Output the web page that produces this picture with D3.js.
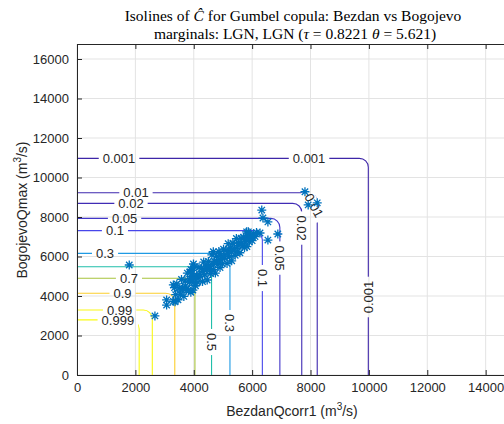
<!DOCTYPE html>
<html>
<head>
<meta charset="utf-8">
<script src="https://cdn.jsdelivr.net/npm/d3@7"></script>
<style>
  body { margin: 0; background: #fff; }
  text { font-family: "Liberation Sans", Arial, sans-serif; fill: #262626; }
  .title { font-family: "Liberation Serif", "DejaVu Serif", serif; font-size: 15.5px; fill: #000; }
</style>
</head>
<body>
<div id="chart"></div>
<script>

// contour levels and where each L-shaped isoline meets the axes
var levels = [0.001, 0.01, 0.02, 0.05, 0.1, 0.3, 0.5, 0.7, 0.9, 0.99, 0.999];
var levelX = [9980, 8230, 7700, 6950, 6350, 5240, 4610, 4040, 3350, 2580, 2130];
var levelY = [10970, 9230, 8690, 7930, 7310, 6160, 5480, 4900, 4140, 3290, 2790];

// inline contour labels
var labelLevel = [0.001, 0.001, 0.001, 0.01, 0.01, 0.02, 0.02, 0.05, 0.05, 0.1, 0.1, 0.3, 0.3, 0.5, 0.7, 0.9, 0.99, 0.999];
var labelX = [1440, 7950, 9980, 2020, 8120, 1850, 7700, 1630, 6950, 1300, 6350, 960, 5240, 4610, 1780, 1560, 1460, 1400];
var labelY = [10970, 10970, 3950, 9230, 8590, 8690, 7440, 7930, 5920, 7310, 4910, 6160, 2630, 1670, 4900, 4140, 3290, 2790];
var labelAngle = [0, 0, -90, 0, 62, 0, 90, 0, 90, 0, 90, 0, 90, 90, 0, 0, 0, 0];

// observed pairs (Bezdan, Bogojevo)
var obsX = [1790, 2670, 3070, 3070, 3300, 3360, 3990, 3930, 3950, 3900, 4670, 4900, 5870, 6330, 6370, 6540, 6270, 6880, 6540, 5810, 7810, 7920, 8230, 3970,
  3300, 3340, 3380, 3420, 3460, 3500, 3540, 3580, 3620, 3660, 3700, 3740, 3780, 3820, 3860, 3900, 3940, 3980, 4020, 4060,
  4100, 4140, 4180, 4220, 4260, 4300, 4340, 4380, 4420, 4460, 4500, 4540, 4580, 4620, 4660, 4700, 4740, 4780, 4820, 4860,
  4900, 4940, 4980, 5020, 5060, 5100, 5140, 5180, 5220, 5260, 5300, 5340, 5380, 5420, 5460, 5500, 5540, 5580, 5620, 5660,
  5700, 5740, 5780, 5820, 5860, 5900, 5950, 6000, 6050, 6100, 6150,
  3600, 3720, 3850, 3970, 4080, 4200, 4320, 4440, 4560, 4680, 4800, 4920, 5040, 5160, 5280, 5400, 5520, 5640, 5760, 5880, 6000];
var obsY = [5570, 2990, 3800, 3540, 4560, 3710, 5620, 5300, 5000, 5350, 6240, 6160, 7250, 8350, 7950, 7750, 7190, 7140, 6830, 7250, 9280, 8610, 8720, 4300,
  3730, 4420, 4070, 4610, 3810, 4400, 4090, 4840, 4380, 3980, 4770, 4360, 5160, 4300, 4850, 4190, 5130, 4680, 5470, 4520,
  5010, 4700, 5450, 4990, 5390, 4730, 5720, 5070, 5510, 4810, 5750, 5390, 5140, 6080, 5330, 5770, 5160, 6010, 5600, 6250,
  5440, 5980, 5630, 6370, 5920, 6310, 5650, 6650, 5990, 6440, 5780, 6670, 6320, 6060, 6910, 6250, 6690, 6190, 6930, 6530,
  6970, 6460, 6910, 6500, 7050, 6740, 7100, 6800, 7150, 7010, 7210,
  4300, 4500, 4700, 4850, 4950, 5100, 5250, 5350, 5500, 5600, 5750, 5850, 6000, 6150, 6250, 6400, 6550, 6650, 6750, 6900, 7000];

var xTicks = [0, 2000, 4000, 6000, 8000, 10000, 12000, 14000];
var yTicks = [0, 2000, 4000, 6000, 8000, 10000, 12000, 14000, 16000];

var width = 504, height = 424;
var margin = { top: 44, left: 77, right: 509, bottom: 375 };

// parula colormap anchors
var parula = ["#3e26a8", "#4746eb", "#3080f6", "#1f9ae4", "#13b2d0", "#21bfaa",
              "#6cc56c", "#a8c33d", "#e8bb2f", "#fcce2e", "#f9fb15"];
var parulaScale = d3.scaleLinear()
    .domain(d3.range(parula.length).map(function(i) { return i / (parula.length - 1); }))
    .range(parula);
var colour = function(lv) {
    return parulaScale((lv - d3.min(levels)) / (d3.max(levels) - d3.min(levels)));
};

var x = d3.scaleLinear().domain([0, 14800]).range([margin.left, margin.right]);
var y = d3.scaleLinear().domain([0, 16760]).range([margin.bottom, margin.top]);

var svg = d3.select("#chart").append("svg")
    .attr("width", width)
    .attr("height", height);

// grid
svg.append("g").selectAll("line.gx").data(xTicks).enter().append("line")
    .attr("x1", x).attr("x2", x).attr("y1", margin.top).attr("y2", margin.bottom)
    .attr("stroke", "#e3e3e3").attr("stroke-width", 1);
svg.append("g").selectAll("line.gy").data(yTicks).enter().append("line")
    .attr("y1", y).attr("y2", y).attr("x1", margin.left).attr("x2", margin.right)
    .attr("stroke", "#e3e3e3").attr("stroke-width", 1);

// label boxes cut gaps in the contour lines through a mask
var defs = svg.append("defs");
var mask = defs.append("mask").attr("id", "gaps").attr("maskUnits", "userSpaceOnUse")
    .attr("x", 0).attr("y", 0).attr("width", width).attr("height", height);
mask.append("rect").attr("width", width).attr("height", height).attr("fill", "#fff");

var contourG = svg.append("g").attr("mask", "url(#gaps)");
var labelG = svg.append("g");

var radius = 9;
levels.forEach(function(lv, i) {
    var p = d3.path();
    var yl = y(levelY[i]), xl = x(levelX[i]);
    p.moveTo(x(0), yl);
    p.arcTo(xl, yl, xl, y(0), radius);
    p.lineTo(xl, y(0));
    contourG.append("path")
        .attr("d", p.toString())
        .attr("fill", "none")
        .attr("stroke", colour(lv))
        .attr("stroke-width", 1.1);
});

labelLevel.forEach(function(lv, i) {
    var tr = "translate(" + x(labelX[i]) + "," + y(labelY[i]) + ") rotate(" + labelAngle[i] + ")";
    var t = labelG.append("text")
        .attr("transform", tr)
        .attr("text-anchor", "middle")
        .attr("dy", "0.36em")
        .style("font-size", "13px")
        .text(String(lv));
    var w = t.node().getComputedTextLength();
    mask.append("rect")
        .attr("transform", tr)
        .attr("x", -w / 2 - 4).attr("y", -6)
        .attr("width", w + 8).attr("height", 12)
        .attr("fill", "#000");
});

// observations as asterisks
var star = "M-4.5,0L4.5,0M0,-4.5L0,4.5M-3.2,-3.2L3.2,3.2M-3.2,3.2L3.2,-3.2";
svg.append("g").selectAll("path").data(obsX).enter().append("path")
    .attr("transform", function(d, i) { return "translate(" + x(d) + "," + y(obsY[i]) + ")"; })
    .attr("d", star)
    .attr("fill", "none")
    .attr("stroke", "#0072bd")
    .attr("stroke-width", 1.3);

// axes, ticks inward like matlab
var axisCol = "#262626";
var fmt = d3.format("d");
var xAxis = svg.append("g").attr("transform", "translate(0," + margin.bottom + ")")
    .call(d3.axisBottom(x).tickValues(xTicks).tickFormat(fmt).tickSize(-5).tickPadding(8).tickSizeOuter(0));
var xTop = svg.append("g").attr("transform", "translate(0," + margin.top + ")")
    .call(d3.axisTop(x).tickValues(xTicks).tickSize(-5).tickFormat("").tickSizeOuter(0));
var yAxis = svg.append("g").attr("transform", "translate(" + margin.left + ",0)")
    .call(d3.axisLeft(y).tickValues(yTicks).tickFormat(fmt).tickSize(-5).tickPadding(8).tickSizeOuter(0));
var yRight = svg.append("g").attr("transform", "translate(" + margin.right + ",0)")
    .call(d3.axisRight(y).tickValues(yTicks).tickSize(-5).tickFormat("").tickSizeOuter(0));

[xAxis, xTop, yAxis, yRight].forEach(function(a) {
    a.selectAll("path.domain").attr("stroke", axisCol);
    a.selectAll(".tick line").attr("stroke", axisCol);
    a.selectAll(".tick text").attr("fill", axisCol).style("font-size", "13px")
        .style("font-family", "Liberation Sans, Arial, sans-serif");
});

// axis titles
var xl = svg.append("text")
    .attr("x", 292).attr("y", 416)
    .attr("text-anchor", "middle")
    .style("font-size", "14px");
xl.append("tspan").text("BezdanQcorr1 (m");
xl.append("tspan").attr("dy", -6).style("font-size", "10px").text("3");
xl.append("tspan").attr("dy", 6).text("/s)");

var yl = svg.append("text")
    .attr("transform", "translate(27,210) rotate(-90)")
    .attr("text-anchor", "middle")
    .style("font-size", "14px");
yl.append("tspan").text("BogojevoQmax (m");
yl.append("tspan").attr("dy", -6).style("font-size", "10px").text("3");
yl.append("tspan").attr("dy", 6).text("/s)");

// title
var t1 = svg.append("text").attr("class", "title")
    .attr("x", 293).attr("y", 21).attr("text-anchor", "middle");
t1.append("tspan").text("Isolines of ");
t1.append("tspan").style("font-style", "italic").text("\u0108");
t1.append("tspan").text(" for Gumbel copula: Bezdan vs Bogojevo");

var t2 = svg.append("text").attr("class", "title")
    .attr("x", 295).attr("y", 39).attr("text-anchor", "middle");
t2.append("tspan").text("marginals: LGN, LGN (");
t2.append("tspan").style("font-style", "italic").text("\u03c4");
t2.append("tspan").text(" = 0.8221 ");
t2.append("tspan").style("font-style", "italic").text("\u03b8");
t2.append("tspan").text(" = 5.621)");

</script>
</body>
</html>
